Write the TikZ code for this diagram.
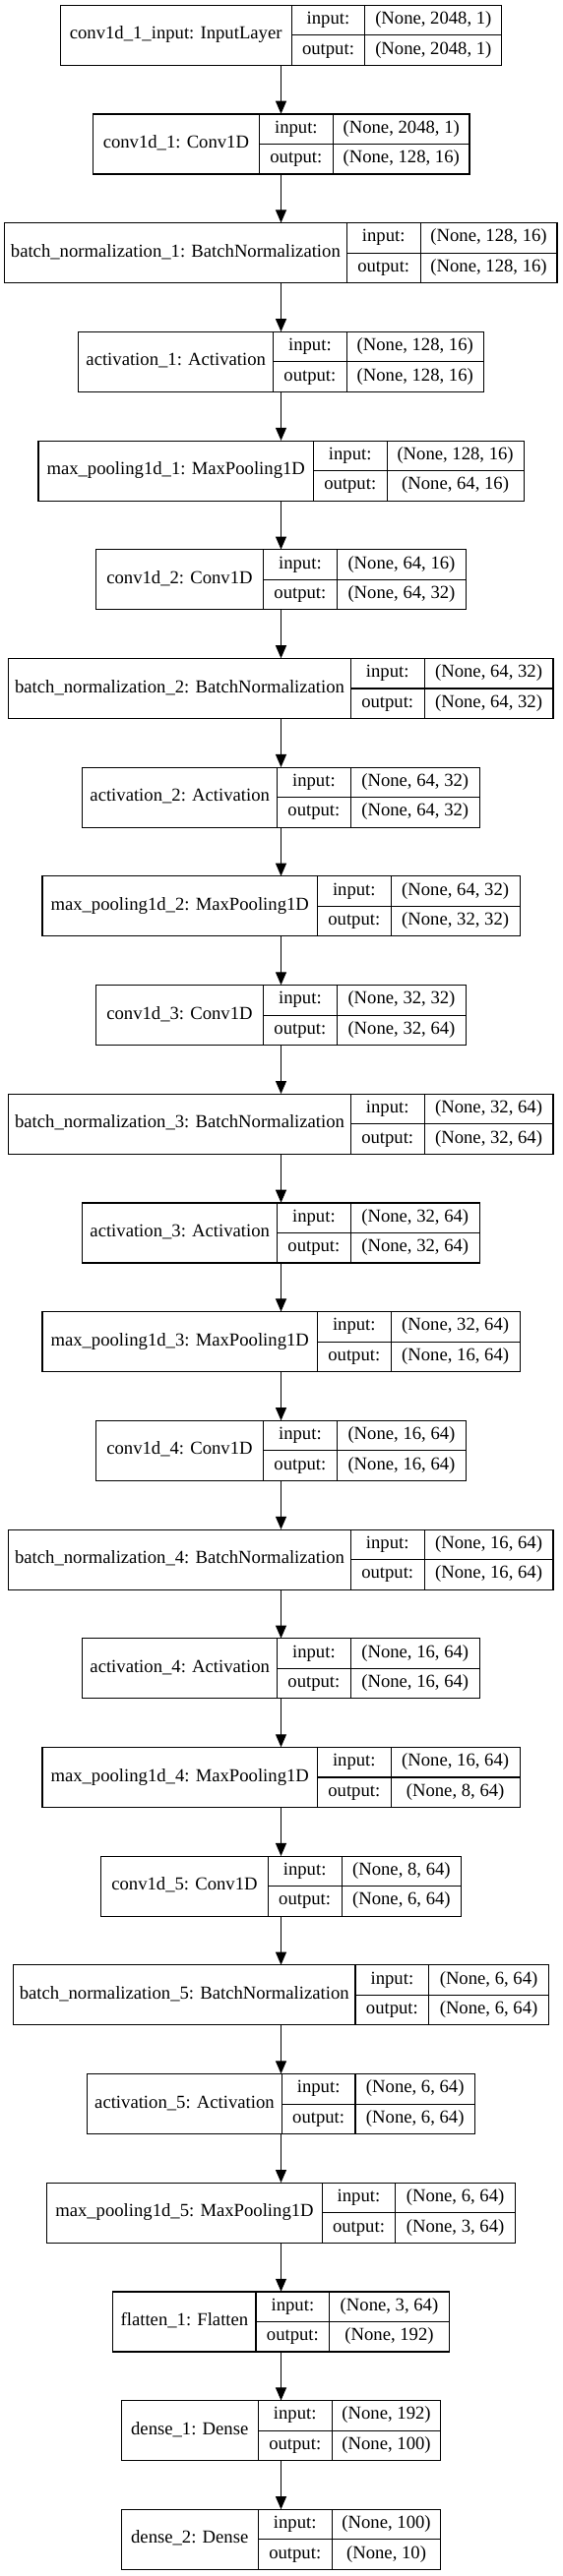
\documentclass[tikz,border=0pt]{standalone}
\usepackage{fontspec}
\setmainfont{Liberation Serif}
\usetikzlibrary{arrows.meta}
\tikzset{
  cell/.style={draw,line width=0.8pt,inner sep=0pt,text height=0.8em,text depth=0.2em},
  conn/.style={line width=0.8pt,-{Triangle[length=9.75pt,width=8.25pt]}},
}
\begin{document}
\begin{tikzpicture}[x=0.75pt,y=-0.75pt,font=\fontsize{14}{17}\selectfont]
\useasboundingbox (0,0) rectangle (571,2619);
% layer / left / split 1 / split 2 / right / name / input / output
\foreach \k/\xl/\xa/\xb/\xr/\lname/\shin/\shout in {
1/61.3/296.1/370.9/509.8/{conv1d\_1\_input: InputLayer}/{(None, 2048, 1)}/{(None, 2048, 1)},
2/94.5/263.3/338.4/477.0/{conv1d\_1: Conv1D}/{(None, 2048, 1)}/{(None, 128, 16)},
3/4.4/352.3/427.1/566.0/{batch\_normalization\_1: BatchNormalization}/{(None, 128, 16)}/{(None, 128, 16)},
4/79.9/277.5/352.3/491.2/{activation\_1: Activation}/{(None, 128, 16)}/{(None, 128, 16)},
5/39.0/318.4/393.1/532.1/{max\_pooling1d\_1: MaxPooling1D}/{(None, 128, 16)}/{(None, 64, 16)},
6/97.7/267.3/342.5/473.4/{conv1d\_2: Conv1D}/{(None, 64, 16)}/{(None, 64, 32)},
7/8.8/356.3/431.1/562.0/{batch\_normalization\_2: BatchNormalization}/{(None, 64, 32)}/{(None, 64, 32)},
8/83.9/281.5/356.3/487.2/{activation\_2: Activation}/{(None, 64, 32)}/{(None, 64, 32)},
9/43.0/322.4/397.2/528.1/{max\_pooling1d\_2: MaxPooling1D}/{(None, 64, 32)}/{(None, 32, 32)},
10/97.7/267.3/342.5/473.4/{conv1d\_3: Conv1D}/{(None, 32, 32)}/{(None, 32, 64)},
11/8.8/356.3/431.1/562.0/{batch\_normalization\_3: BatchNormalization}/{(None, 32, 64)}/{(None, 32, 64)},
12/83.9/281.5/356.3/487.2/{activation\_3: Activation}/{(None, 32, 64)}/{(None, 32, 64)},
13/43.0/322.4/397.2/528.1/{max\_pooling1d\_3: MaxPooling1D}/{(None, 32, 64)}/{(None, 16, 64)},
14/97.7/267.3/342.5/473.4/{conv1d\_4: Conv1D}/{(None, 16, 64)}/{(None, 16, 64)},
15/8.8/356.3/431.1/562.0/{batch\_normalization\_4: BatchNormalization}/{(None, 16, 64)}/{(None, 16, 64)},
16/83.9/281.5/356.3/487.2/{activation\_4: Activation}/{(None, 16, 64)}/{(None, 16, 64)},
17/43.0/322.4/397.2/528.1/{max\_pooling1d\_4: MaxPooling1D}/{(None, 16, 64)}/{(None, 8, 64)},
18/102.8/272.1/347.2/468.6/{conv1d\_5: Conv1D}/{(None, 8, 64)}/{(None, 6, 64)},
19/13.5/361.0/435.8/557.3/{batch\_normalization\_5: BatchNormalization}/{(None, 6, 64)}/{(None, 6, 64)},
20/88.6/286.3/361.0/482.5/{activation\_5: Activation}/{(None, 6, 64)}/{(None, 6, 64)},
21/47.8/327.1/401.9/523.3/{max\_pooling1d\_5: MaxPooling1D}/{(None, 6, 64)}/{(None, 3, 64)},
22/114.9/260.0/334.8/456.2/{flatten\_1: Flatten}/{(None, 3, 64)}/{(None, 192)},
23/123.3/262.2/337.3/447.8/{dense\_1: Dense}/{(None, 192)}/{(None, 100)},
24/123.3/262.2/337.3/447.8/{dense\_2: Dense}/{(None, 100)}/{(None, 10)}%
}{
  \pgfmathsetmacro\ytop{5.3+(\k-1)*110.7}
  \node[inner sep=0pt,minimum width=(\xr-\xl)*0.75pt,minimum height=61*0.75pt] (rec\k) at (285.5,\ytop+30.5) {};
  \node[cell,minimum width=(\xa-\xl)*0.75pt,minimum height=61*0.75pt] (name\k) at ({(\xl+\xa)/2},\ytop+30.5) {\lname};
  \node[cell,minimum width=(\xb-\xa)*0.75pt,minimum height=30.5*0.75pt] (inlab\k) at ({(\xa+\xb)/2},\ytop+15.25) {input:};
  \node[cell,minimum width=(\xb-\xa)*0.75pt,minimum height=30.5*0.75pt] (outlab\k) at ({(\xa+\xb)/2},\ytop+45.75) {output:};
  \node[cell,minimum width=(\xr-\xb)*0.75pt,minimum height=30.5*0.75pt] (inval\k) at ({(\xb+\xr)/2},\ytop+15.25) {\shin};
  \node[cell,minimum width=(\xr-\xb)*0.75pt,minimum height=30.5*0.75pt] (outval\k) at ({(\xb+\xr)/2},\ytop+45.75) {\shout};
}
\foreach \k [evaluate=\k as \kn using int(\k+1)] in {1,...,23}
  \draw[conn] (rec\k.south) -- (rec\kn.north);
\end{tikzpicture}
\end{document}
